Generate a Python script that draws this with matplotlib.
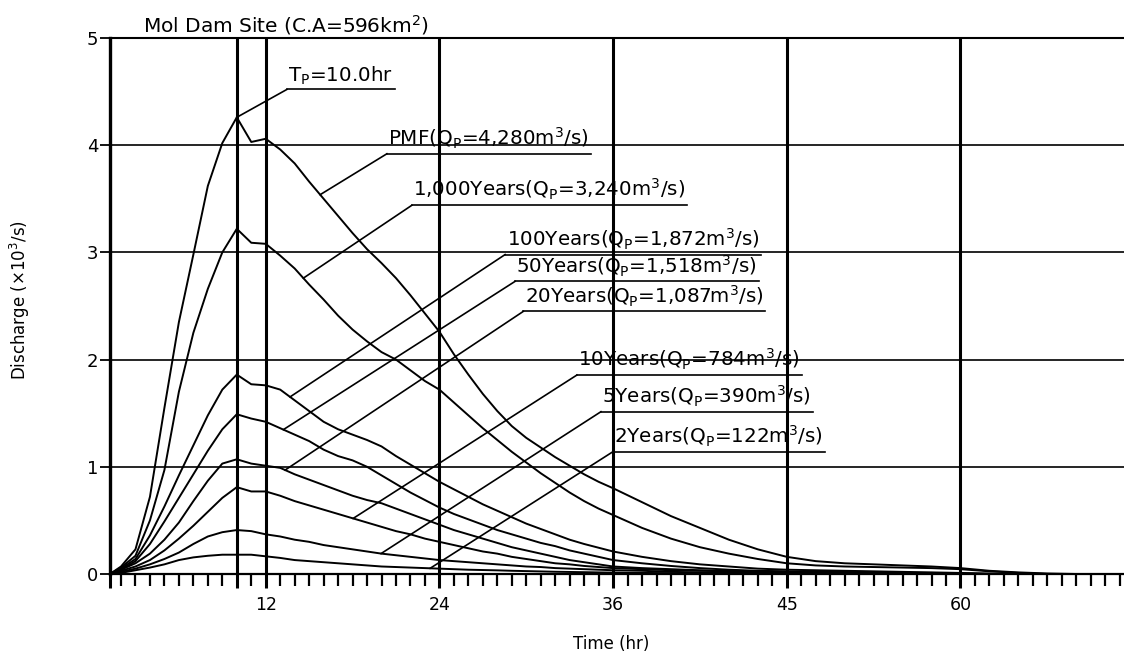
import numpy as np
import matplotlib
matplotlib.use("Agg")
import matplotlib.pyplot as plt

# ---------------- data ----------------
time_hr = [1.24] + list(range(2, 37)) + list(range(38, 71, 2))

q_pmf = [0,
         0.07, 0.23, 0.72, 1.55, 2.35, 2.98, 3.62, 4.02, 4.26,
         4.03, 4.06, 3.96, 3.83, 3.66, 3.50, 3.34, 3.18, 3.03, 2.90,
         2.76, 2.60, 2.43, 2.26, 2.05, 1.86, 1.68, 1.52, 1.38, 1.27,
         1.18, 1.09, 1.01, 0.93, 0.86, 0.80,
         0.67, 0.54, 0.43, 0.32, 0.23, 0.16, 0.12, 0.10, 0.09, 0.08, 0.07, 0.055, 0.03, 0.015, 0.005, 0.0, 0.0]
q_1000 = [0,
          0.06, 0.17, 0.50, 0.97, 1.70, 2.25, 2.66, 3.00, 3.22,
          3.09, 3.08, 2.97, 2.85, 2.70, 2.56, 2.41, 2.28, 2.17, 2.07,
          2.00, 1.90, 1.80, 1.72, 1.60, 1.48, 1.36, 1.25, 1.14, 1.04,
          0.94, 0.85, 0.76, 0.68, 0.61, 0.55,
          0.43, 0.33, 0.25, 0.19, 0.14, 0.10, 0.08, 0.07, 0.065, 0.06, 0.055, 0.045, 0.025, 0.01, 0.0, 0.0, 0.0]
q_100 = [0,
         0.05, 0.14, 0.36, 0.63, 0.92, 1.20, 1.48, 1.72, 1.86,
         1.77, 1.76, 1.72, 1.62, 1.52, 1.42, 1.35, 1.30, 1.25, 1.19,
         1.10, 1.02, 0.94, 0.86, 0.79, 0.72, 0.65, 0.59, 0.53, 0.47,
         0.42, 0.37, 0.32, 0.28, 0.245, 0.21,
         0.16, 0.12, 0.09, 0.07, 0.05, 0.04, 0.035, 0.03, 0.025, 0.02, 0.015, 0.01, 0.005, 0, 0, 0, 0]
q_50 = [0,
        0.04, 0.12, 0.28, 0.49, 0.71, 0.93, 1.15, 1.35, 1.49,
        1.45, 1.42, 1.36, 1.30, 1.24, 1.16, 1.10, 1.06, 1.00, 0.92,
        0.84, 0.76, 0.69, 0.62, 0.56, 0.51, 0.46, 0.41, 0.37, 0.33,
        0.29, 0.26, 0.22, 0.19, 0.16, 0.13,
        0.10, 0.075, 0.055, 0.04, 0.03, 0.025, 0.02, 0.02, 0.015, 0.01, 0.01, 0.005, 0, 0, 0, 0, 0]
q_20 = [0,
        0.04, 0.10, 0.19, 0.32, 0.48, 0.68, 0.87, 1.03, 1.07,
        1.03, 1.01, 0.99, 0.93, 0.88, 0.83, 0.78, 0.73, 0.69, 0.66,
        0.61, 0.56, 0.51, 0.46, 0.41, 0.37, 0.33, 0.29, 0.25, 0.22,
        0.19, 0.16, 0.13, 0.11, 0.09, 0.07,
        0.055, 0.045, 0.035, 0.03, 0.025, 0.02, 0.015, 0.012, 0.01, 0.008, 0.005, 0, 0, 0, 0, 0, 0]
q_10 = [0,
        0.03, 0.07, 0.13, 0.22, 0.33, 0.45, 0.58, 0.71, 0.81,
        0.77, 0.77, 0.73, 0.68, 0.64, 0.60, 0.56, 0.52, 0.48, 0.44,
        0.40, 0.37, 0.33, 0.30, 0.27, 0.24, 0.21, 0.19, 0.16, 0.14,
        0.12, 0.10, 0.09, 0.075, 0.065, 0.055,
        0.045, 0.035, 0.03, 0.025, 0.02, 0.015, 0.01, 0.008, 0.005, 0, 0, 0, 0, 0, 0, 0, 0]
q_5 = [0,
       0.02, 0.05, 0.09, 0.14, 0.20, 0.28, 0.35, 0.39, 0.41,
       0.40, 0.37, 0.35, 0.32, 0.30, 0.27, 0.25, 0.23, 0.21, 0.19,
       0.175, 0.16, 0.145, 0.13, 0.12, 0.11, 0.10, 0.09, 0.08, 0.07,
       0.065, 0.055, 0.05, 0.045, 0.04, 0.035,
       0.03, 0.02, 0.015, 0.012, 0.01, 0.008, 0.005, 0, 0, 0, 0, 0, 0, 0, 0, 0, 0]
q_2 = [0,
       0.01, 0.035, 0.06, 0.09, 0.13, 0.155, 0.17, 0.18, 0.18,
       0.18, 0.165, 0.15, 0.13, 0.12, 0.11, 0.10, 0.09, 0.08, 0.07,
       0.065, 0.06, 0.055, 0.05, 0.045, 0.04, 0.037, 0.034, 0.03, 0.027,
       0.024, 0.021, 0.019, 0.017, 0.015, 0.013,
       0.01, 0.008, 0.006, 0.005, 0.004, 0.003, 0.002, 0.001, 0, 0, 0, 0, 0, 0, 0, 0, 0]

series = [q_pmf, q_1000, q_100, q_50, q_20, q_10, q_5, q_2]
series_names = ["PMF", "1,000Years", "100Years", "50Years", "20Years", "10Years", "5Years", "2Years"]
peak_q = ["4,280", "3,240", "1,872", "1,518", "1,087", "784", "390", "122"]
peak_time = 10.0

x_major = [12, 24, 36, 48, 60]
x_major_labels = ["12", "24", "36", "45", "60"]
y_ticks = [0, 1, 2, 3, 4, 5]
y_tick_labels = ["0", "1", "2", "3", "4", "5"]

for s in series:
    assert len(s) == len(time_hr)

# ---------------- layout ----------------
W, H = 1124, 654
fig = plt.figure(figsize=(W / 100, H / 100), dpi=100)
ax = fig.add_axes([110 / W, 80 / H, 1014 / W, 536 / H])
ax.set_xlim(1.24, 71.3)
ax.set_ylim(0, 5)

# grid
for y in [1, 2, 3, 4]:
    ax.axhline(y, color="black", lw=1.2, zorder=1)
for x in [peak_time] + x_major:
    ax.axvline(x, color="black", lw=2.2, zorder=2)

# curves
for q in series:
    ax.plot(time_hr, q, color="black", lw=1.4, solid_joinstyle="round", zorder=3)

# spines
ax.spines["right"].set_visible(False)
ax.spines["left"].set_linewidth(2.4)
ax.spines["bottom"].set_linewidth(1.6)
ax.spines["top"].set_linewidth(1.5)

# ticks
ax.set_xticks([1.24, peak_time] + x_major)
ax.set_xticklabels(["", ""] + x_major_labels)
ax.set_xticks(np.arange(2, 72, 1), minor=True)
ax.tick_params(axis="x", which="major", length=10, width=2.2, direction="out",
               pad=5.5, labelsize=12.5, color="black")
ax.tick_params(axis="x", which="minor", length=8.6, width=1.6, direction="out", color="black")
ax.set_yticks(y_ticks)
ax.set_yticklabels(y_tick_labels)
ax.tick_params(axis="y", which="major", length=7, width=1.3, pad=1.5, labelsize=13)

# labels with underline and leader
label_anchor = [(20.37, 3.92), (22.1, 3.44), (28.54, 2.98), (29.23, 2.73),
                (29.8, 2.45), (33.5, 1.856), (35.16, 1.514), (35.98, 1.14)]
leader_t = [15.76, 14.6, 13.68, 13.22, 13.34, 18.04, 19.97, 23.36]

texts = []
for name, qp, (lx, ly), lt, q in zip(series_names, peak_q, label_anchor, leader_t, series):
    s = name + r"(Q$_\mathregular{P}$=" + qp + r"m$^\mathregular{3}$/s)"
    t = ax.annotate(s, xy=(lx, ly), xytext=(1, 2), textcoords="offset points",
                    ha="left", va="bottom", fontsize=14.3, zorder=5)
    texts.append((t, lx, ly))
    qy = np.interp(lt, time_hr, q)
    ax.plot([lt, lx], [qy, ly], color="black", lw=1.2, zorder=4)

# Tp label
tp_x, tp_y = 13.46, 4.52
tp = ax.annotate(r"T$_\mathregular{P}$=10.0hr", xy=(tp_x, tp_y), xytext=(1, 2),
                 textcoords="offset points", ha="left", va="bottom", fontsize=14.3, zorder=5)
texts.append((tp, tp_x, tp_y))
ax.plot([peak_time, tp_x], [np.interp(peak_time, time_hr, q_pmf), tp_y], color="black", lw=1.2, zorder=4)

fig.canvas.draw()
renderer = fig.canvas.get_renderer()
inv = ax.transData.inverted()
for t, lx, ly in texts:
    bb = t.get_window_extent(renderer)
    x_end = inv.transform((bb.x1 + 2, 0))[0]
    ax.plot([lx, x_end], [ly, ly], color="black", lw=1.2, zorder=4, clip_on=False)

# titles
fig.text(143 / W, 1 - 32 / H, r"Mol Dam Site (C.A=596km$^\mathregular{2}$)", fontsize=14.5,
         ha="left", va="baseline")
fig.text(611 / W, 1 - 644 / H, "Time (hr)", fontsize=12, ha="center", va="center")
fig.text(20 / W, 1 - 300 / H, r"Discharge (×10$^\mathregular{3}$/s)", fontsize=12,
         ha="center", va="center", rotation=90)

fig.savefig("out.png", dpi=100)
